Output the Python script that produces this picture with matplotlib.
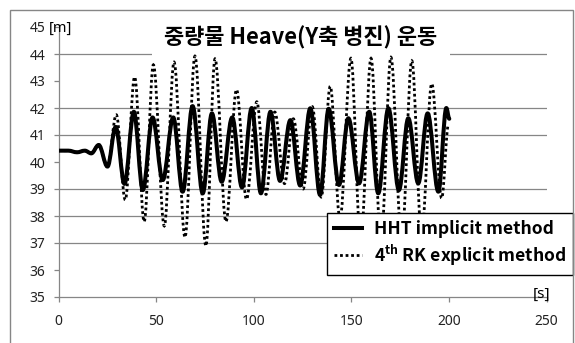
import matplotlib
matplotlib.use("Agg")
import matplotlib.pyplot as plt
from matplotlib.path import Path
from matplotlib.patches import PathPatch, Rectangle
from matplotlib.lines import Line2D
from matplotlib.font_manager import FontProperties

plt.rcParams['mathtext.fontset'] = 'custom'
plt.rcParams['mathtext.rm'] = 'Noto Sans CJK KR'
plt.rcParams['mathtext.bf'] = 'Noto Sans CJK KR:bold'

# ---------------- data (turning points) ----------------
hht_t = [0, 5, 9.5, 13.5, 16.8, 20.6, 25.1, 29.3, 33.8, 38.6, 43.2, 48.2, 53.4, 58.8,
         63.6, 68.7, 73.9, 78.6, 83.6, 89.0, 94.0, 99.0, 103.7, 108.6, 113.5, 118.8,
         123.8, 129.0, 134.0, 138.4, 143.7, 148.5, 154.0, 159.2, 163.8, 169.0, 174.4,
         179.2, 184.3, 189.1, 194.6, 198.7, 200.2]
hht_v = [40.42, 40.42, 40.36, 40.42, 40.32, 40.63, 39.83, 41.3, 39.19, 41.86, 38.96,
         41.65, 39.33, 41.65, 38.9, 42.07, 38.84, 41.8, 39.27, 41.65, 39.06, 42.0, 38.84,
         41.86, 39.3, 41.55, 39.13, 41.99, 38.78, 41.97, 39.15, 41.62, 39.21, 41.86,
         38.84, 41.99, 38.96, 41.62, 39.21, 41.8, 38.9, 42.0, 41.6]

rk_t = [0, 5, 9.5, 13.5, 16.8, 20.6, 25.1, 29.6, 34.2, 39.0, 43.9, 48.6, 54.2, 59.2,
        64.8, 69.9, 75.5, 80.2, 85.8, 91.2, 96.3, 101.6, 106.3, 110.8, 115.8, 120.3,
        125.3, 130.0, 134.6, 139.2, 144.2, 149.8, 154.8, 160.1, 165.2, 170.3, 175.8,
        181.0, 186.0, 191.2, 196.3, 199.8]
rk_v = [40.42, 40.42, 40.36, 40.42, 40.32, 40.63, 39.83, 41.75, 38.6, 43.15, 37.79,
        43.6, 37.63, 43.7, 37.21, 43.92, 36.89, 43.82, 37.79, 42.68, 38.62, 42.23, 38.8,
        41.85, 39.2, 41.6, 39.0, 42.05, 38.7, 42.8, 37.9, 43.84, 37.0, 43.84, 37.0,
        43.88, 37.05, 43.75, 37.3, 42.9, 38.66, 41.4]

series_labels = ["HHT implicit method", "4$^{\\mathbf{th}}$ RK explicit method"]
title_text = "중량물 Heave(Y축 병진) 운동"
x_ticks = [0, 50, 100, 150, 200, 250]
y_ticks = [35, 36, 37, 38, 39, 40, 41, 42, 43, 44, 45]
grid_levels = [37, 38, 39, 41, 42, 44]
x_unit = "[s]"
y_unit = "[m]"

# ---------------- figure ----------------
W, H = 575, 343
fig = plt.figure(figsize=(W / 100, H / 100), dpi=100)
fig.patch.set_facecolor("white")
ax = fig.add_axes([58.5 / W, 1 - 297 / H, (546.5 - 58.5) / W, (297 - 27) / H])
ax.set_xlim(0, 250)
ax.set_ylim(35, 45)

GREY = "#868686"


def wave_path(ts, vs, k=0.36):
    verts = [(ts[0], vs[0])]
    codes = [Path.MOVETO]
    for i in range(1, len(ts)):
        t0, v0, t1, v1 = ts[i - 1], vs[i - 1], ts[i], vs[i]
        dt = t1 - t0
        verts += [(t0 + k * dt, v0), (t1 - k * dt, v1), (t1, v1)]
        codes += [Path.CURVE4] * 3
    return Path(verts, codes)


for lv in grid_levels:
    ax.axhline(lv, color=GREY, lw=0.9, zorder=1)

solid = PathPatch(wave_path(hht_t, hht_v), fill=False, edgecolor="black",
                  lw=2.9, joinstyle="round", capstyle="round", zorder=3)
ax.add_patch(solid)
dotted = PathPatch(wave_path(rk_t, rk_v), fill=False, edgecolor="black",
                   lw=2.0, linestyle=(0, (1, 1)), capstyle="butt", zorder=3.5)
ax.add_patch(dotted)

for s in ["top", "right"]:
    ax.spines[s].set_visible(False)
for s in ["left", "bottom"]:
    ax.spines[s].set_color(GREY)
    ax.spines[s].set_linewidth(0.9)

ax.set_xticks(x_ticks)
ax.set_yticks(y_ticks)
ax.set_xticklabels([str(v) for v in x_ticks])
ax.set_yticklabels([str(v) for v in y_ticks])
ax.tick_params(axis="both", color=GREY, length=3.5, width=0.9, labelcolor="#222222",
               labelsize=10)
ax.tick_params(axis="y", pad=6)
ax.tick_params(axis="x", pad=9)
for lab in ax.get_xticklabels() + ax.get_yticklabels():
    lab.set_fontfamily("Noto Sans")

# title with white box over the gridline
ax.text(301 / W, 1 - 37.5 / H, title_text, transform=fig.transFigure,
        ha="center", va="center", fontsize=15.8, fontweight="bold",
        family=["Noto Sans CJK KR", "DejaVu Sans"],
        bbox=dict(facecolor="white", edgecolor="none", pad=9),
        zorder=2.5)

# unit labels
ax.text(1.3, 44.94, y_unit, ha="center", va="center", fontsize=10.5,
        family="Noto Sans", color="black", zorder=4)
ax.text(247.7, 35.1, x_unit, ha="center", va="center", fontsize=11,
        family="Noto Sans", color="black", zorder=4)

handles = [Line2D([], [], color="black", lw=2.9),
           Line2D([], [], color="black", lw=2.0, linestyle=(0, (1, 1)))]
leg = ax.legend(handles, series_labels, loc="upper left",
                bbox_to_anchor=(327 / W, 1 - 213 / H), bbox_transform=fig.transFigure,
                prop=FontProperties(family="Noto Sans CJK KR", weight="bold", size=12.6),
                frameon=True, fancybox=False, framealpha=1, edgecolor="black",
                borderaxespad=0, handlelength=1.6, handletextpad=0.7,
                labelspacing=0.25, borderpad=0.4)
leg.get_frame().set_linewidth(1.0)
leg.set_zorder(6)

# outer chart border
fig.add_artist(Rectangle((10 / W, -0.05), (573 - 10) / W, (1 - 10 / H) + 0.05,
                         transform=fig.transFigure, fill=False, edgecolor=GREY,
                         lw=1.0, zorder=10))

fig.savefig("out.png", dpi=100, facecolor="white")
